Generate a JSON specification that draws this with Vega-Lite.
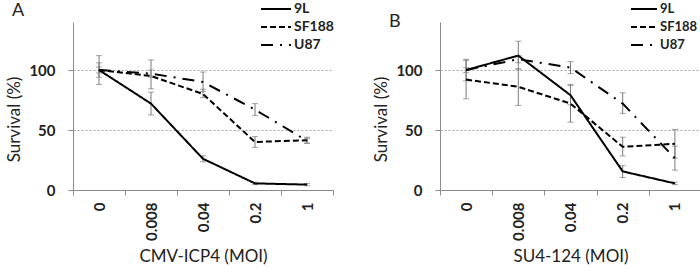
{
  "$schema": "https://vega.github.io/schema/vega-lite/v6.json",
  "padding": {"left": 5, "top": 1, "right": 0, "bottom": 0},
  "background": "white",
  "config": {
    "font": "Lato",
    "view": {"stroke": null},
    "axis": {
      "domainColor": "#8c8c8c",
      "tickColor": "#8c8c8c",
      "tickSize": 5,
      "labelFont": "Lato",
      "labelFontSize": 15,
      "labelFontWeight": "bold",
      "labelColor": "#222222",
      "titleFont": "Lato",
      "titleFontSize": 17,
      "titleFontWeight": "normal",
      "titleColor": "#222222"
    },
    "legend": {
      "labelFont": "Lato",
      "labelFontWeight": "bold",
      "labelColor": "#222222"
    }
  },
  "datasets": {
    "A": [
      {"moi": "0", "cell": "9L", "mean": 100, "lo": 94, "hi": 106},
      {"moi": "0.008", "cell": "9L", "mean": 72, "lo": 62.5, "hi": 81.5},
      {"moi": "0.04", "cell": "9L", "mean": 26, "lo": 23.5, "hi": 28.5},
      {"moi": "0.2", "cell": "9L", "mean": 5.5, "lo": 4.5, "hi": 6.5},
      {"moi": "1", "cell": "9L", "mean": 4.5, "lo": 3.5, "hi": 5.5},
      {"moi": "0", "cell": "SF188", "mean": 100, "lo": 88, "hi": 112},
      {"moi": "0.008", "cell": "SF188", "mean": 95, "lo": 84.3, "hi": 108.4},
      {"moi": "0.04", "cell": "SF188", "mean": 80, "lo": 77, "hi": 84},
      {"moi": "0.2", "cell": "SF188", "mean": 40, "lo": 35.5, "hi": 44.5},
      {"moi": "1", "cell": "SF188", "mean": 41.5, "lo": 39, "hi": 44},
      {"moi": "0", "cell": "U87", "mean": 100, "lo": 97.5, "hi": 102.5},
      {"moi": "0.008", "cell": "U87", "mean": 97, "lo": 94, "hi": 100},
      {"moi": "0.04", "cell": "U87", "mean": 90, "lo": 82, "hi": 98.3},
      {"moi": "0.2", "cell": "U87", "mean": 67, "lo": 62, "hi": 72},
      {"moi": "1", "cell": "U87", "mean": 41, "lo": 39, "hi": 43}
    ],
    "B": [
      {"moi": "0", "cell": "9L", "mean": 100, "lo": 91, "hi": 109},
      {"moi": "0.008", "cell": "9L", "mean": 112, "lo": 100.8, "hi": 124},
      {"moi": "0.04", "cell": "9L", "mean": 79, "lo": 71, "hi": 87},
      {"moi": "0.2", "cell": "9L", "mean": 15.5, "lo": 10.4, "hi": 20.2},
      {"moi": "1", "cell": "9L", "mean": 5.5, "lo": 4.5, "hi": 6.5},
      {"moi": "0", "cell": "SF188", "mean": 92, "lo": 76, "hi": 108},
      {"moi": "0.008", "cell": "SF188", "mean": 86, "lo": 70.5, "hi": 100.8},
      {"moi": "0.04", "cell": "SF188", "mean": 72, "lo": 56.5, "hi": 88},
      {"moi": "0.2", "cell": "SF188", "mean": 36, "lo": 28.4, "hi": 44},
      {"moi": "1", "cell": "SF188", "mean": 38.5, "lo": 26.5, "hi": 50.5},
      {"moi": "0", "cell": "U87", "mean": 100, "lo": 98, "hi": 102},
      {"moi": "0.008", "cell": "U87", "mean": 109, "lo": 106, "hi": 112},
      {"moi": "0.04", "cell": "U87", "mean": 102, "lo": 97, "hi": 107},
      {"moi": "0.2", "cell": "U87", "mean": 72, "lo": 63.8, "hi": 81},
      {"moi": "1", "cell": "U87", "mean": 26.5, "lo": 16.5, "hi": 36.5}
    ]
  },
  "hconcat": [
    {
      "width": 260,
      "height": 168,
      "data": {"name": "A"},
      "title": {"text": "A", "anchor": "start", "frame": "group", "fontSize": 18, "fontWeight": "normal", "font": "Lato", "color": "#222222", "dx": -61, "offset": 4, "dy": 23},
      "encoding": {
        "x": {"field": "moi", "type": "nominal", "sort": ["0", "0.008", "0.04", "0.2", "1"],
              "scale": {"type": "band", "paddingInner": 0, "paddingOuter": 0},
              "axis": {"title": "CMV-ICP4 (MOI)", "labelAngle": -90, "tickBand": "extent", "labelPadding": 7, "titlePadding": 8}}
      },
      "layer": [
        {
          "mark": {"type": "rule", "color": "#7a7a7a", "strokeWidth": 1},
          "encoding": {
            "y": {"field": "lo", "type": "quantitative", "scale": {"domain": [0, 140], "nice": false},
                  "axis": {"title": "Survival (%)", "values": [0, 50, 100], "grid": true, "gridColor": "#a6a6a6", "gridDash": [2, 2], "gridWidth": 1, "labelPadding": 13, "titlePadding": 5, "titleY": 97}},
            "y2": {"field": "hi"}
          }
        },
        {
          "mark": {"type": "tick", "color": "#7a7a7a", "thickness": 1, "size": 6, "orient": "horizontal"},
          "encoding": {"y": {"field": "lo", "type": "quantitative"}}
        },
        {
          "mark": {"type": "tick", "color": "#7a7a7a", "thickness": 1, "size": 6, "orient": "horizontal"},
          "encoding": {"y": {"field": "hi", "type": "quantitative"}}
        },
        {
          "mark": {"type": "line", "color": "black", "strokeWidth": 2},
          "encoding": {
            "y": {"field": "mean", "type": "quantitative"},
            "strokeDash": {"field": "cell", "type": "nominal",
              "scale": {"domain": ["9L", "SF188", "U87"], "range": [[1, 0], [6, 3], [12, 7, 2, 7]]},
              "legend": {"title": null, "orient": "none", "legendX": 187, "legendY": -21, "symbolType": "stroke", "symbolSize": 900, "symbolStrokeWidth": 2, "symbolStrokeColor": "black", "labelOffset": 2, "labelFontSize": 14, "clipHeight": 16, "rowPadding": 2, "padding": 0}}
          }
        }
      ]
    },
    {
      "width": 261,
      "height": 168,
      "data": {"name": "B"},
      "title": {"text": "B", "anchor": "start", "frame": "group", "fontSize": 18, "fontWeight": "normal", "font": "Lato", "color": "#222222", "dx": -51, "offset": -2, "dy": 28},
      "encoding": {
        "x": {"field": "moi", "type": "nominal", "sort": ["0", "0.008", "0.04", "0.2", "1"],
              "scale": {"type": "band", "paddingInner": 0, "paddingOuter": 0},
              "axis": {"title": "SU4-124 (MOI)", "labelAngle": -90, "tickBand": "extent", "labelPadding": 7, "titlePadding": 8}}
      },
      "layer": [
        {
          "mark": {"type": "rule", "color": "#7a7a7a", "strokeWidth": 1},
          "encoding": {
            "y": {"field": "lo", "type": "quantitative", "scale": {"domain": [0, 140], "nice": false},
                  "axis": {"title": "Survival (%)", "values": [0, 50, 100], "grid": true, "gridColor": "#a6a6a6", "gridDash": [2, 2], "gridWidth": 1, "labelPadding": 13, "titlePadding": 5, "titleY": 97}},
            "y2": {"field": "hi"}
          }
        },
        {
          "mark": {"type": "tick", "color": "#7a7a7a", "thickness": 1, "size": 6, "orient": "horizontal"},
          "encoding": {"y": {"field": "lo", "type": "quantitative"}}
        },
        {
          "mark": {"type": "tick", "color": "#7a7a7a", "thickness": 1, "size": 6, "orient": "horizontal"},
          "encoding": {"y": {"field": "hi", "type": "quantitative"}}
        },
        {
          "mark": {"type": "line", "color": "black", "strokeWidth": 2},
          "encoding": {
            "y": {"field": "mean", "type": "quantitative"},
            "strokeDash": {"field": "cell", "type": "nominal",
              "scale": {"domain": ["9L", "SF188", "U87"], "range": [[1, 0], [6, 3], [12, 7, 2, 7]]},
              "legend": {"title": null, "orient": "none", "legendX": 190, "legendY": -21, "symbolType": "stroke", "symbolSize": 676, "symbolStrokeWidth": 2, "symbolStrokeColor": "black", "labelOffset": 2, "labelFontSize": 13, "clipHeight": 16, "rowPadding": 2, "padding": 0}}
          }
        }
      ]
    }
  ],
  "spacing": 107,
  "bounds": "flush",
  "resolve": {"scale": {"strokeDash": "independent", "y": "independent", "x": "independent"}, "legend": {"strokeDash": "independent"}}
}
